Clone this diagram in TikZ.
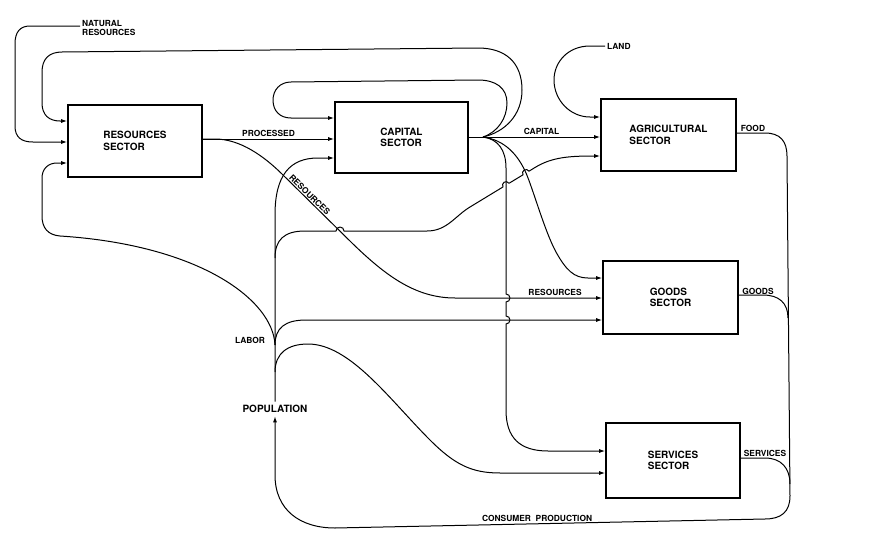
\documentclass[tikz,border=0pt]{standalone}
\usepackage{fontspec}
\setmainfont{TeX Gyre Heros}
\usetikzlibrary{arrows.meta}
\begin{document}
\begin{tikzpicture}[x=1pt,y=-1pt,
  box/.style={draw, line width=1.7pt, align=left, inner sep=0pt,
    font=\bfseries\fontsize{10}{11.5}\selectfont},
  conn/.style={line width=1pt, line join=round},
  flow/.style={conn, -{Latex[length=6pt,width=4pt]}},
  lbl/.style={font=\bfseries\fontsize{8.4}{9}\selectfont, inner sep=1.5pt},
  biglbl/.style={font=\bfseries\fontsize{10}{11}\selectfont},
]
\fill[white] (0,0) rectangle (876,546);
\useasboundingbox (0,0) rectangle (876,546);

% sector boxes
\node[box, minimum width=134pt, minimum height=72pt] (res) at (135,141) {RESOURCES\\SECTOR};
\node[box, minimum width=133pt, minimum height=71pt] (cap) at (401.5,137.5) {CAPITAL\\SECTOR};
\node[box, minimum width=135pt, minimum height=72pt] (agr) at (668.5,135) {AGRICULTURAL\\SECTOR};
\node[box, minimum width=135pt, minimum height=73pt] (goo) at (670.5,297.5) {GOODS\\SECTOR};
\node[box, minimum width=134pt, minimum height=75pt] (ser) at (673,460.5) {SERVICES\\SECTOR};

% free-standing labels
\node[lbl, anchor=west, align=left, inner sep=2pt] (natres) at (80,27.5) {NATURAL\\RESOURCES};
\node[lbl, anchor=west, inner sep=2pt] (land) at (605,46) {LAND};
\node[lbl] (labor) at (250,340) {LABOR};
\node[biglbl] (pop) at (275,409) {POPULATION};
\node[lbl] (food) at (753,128) {FOOD};
\node[lbl] (goodslbl) at (758,291) {GOODS};
\node[lbl] (servlbl) at (765,453) {SERVICES};

% junction points
\coordinate (fan) at (483,137);
\coordinate (lab) at (275,345);

% natural resources input
\draw[flow] (natres.west |- 0,26) -- (30,26) .. controls (20,26) and (15,32) .. (15,44)
  -- (15,126) .. controls (15,137) and (21,142) .. (33,142) -- (res.west |- 0,142);

% capital returned to the resources sector
\draw[flow] (fan) .. controls (505,132) and (522,115) .. (522,90)
  .. controls (522,62) and (505,48) .. (478,48) -- (62,52)
  .. controls (49,52) and (42,59) .. (42,72) -- (42,103)
  .. controls (42,115) and (49,121) .. (60,121) -- (res.west |- 0,121);

% capital reinvested in the capital sector
\draw[flow] (fan) .. controls (498,132) and (507,118) .. (507,103)
  .. controls (507,88) and (496,80) .. (478,80) -- (291,82)
  .. controls (280,82) and (273,90) .. (273,100)
  .. controls (273,111) and (280,118) .. (291,118) -- (cap.west |- 0,118);

% capital output
\draw[conn] (cap.east |- fan) -- (fan);
\draw[flow] (fan) -- node[lbl, above] (caplbl) {CAPITAL} (agr.west |- fan);

% land input
\draw[flow] (land.west) -- (590,46) .. controls (568,46) and (554,62) .. (554,80)
  .. controls (554,100) and (570,117) .. (590,117) -- (agr.west |- 0,117);

% processed resources
\draw[flow] (res.east |- 0,139) -- node[lbl, above] (proclbl) {PROCESSED} (cap.west |- 0,139);

% resources to the goods sector
\draw[flow] (res.east |- 0,139) -- (215,139) .. controls (240,139) and (264,156) .. (283,175)
  -- node[lbl, sloped, above, pos=0.34, inner sep=1pt] (resdiag) {RESOURCES} (352,243)
  .. controls (385,275) and (415,298) .. (455,298)
  -- node[lbl, above, pos=0.68] (reslbl) {RESOURCES} (goo.west |- 0,298);

% labor trunk to the capital sector
\draw[flow] (pop.north) -- (275,215) .. controls (275,175) and (290,158) .. (318,158)
  -- (cap.west |- 0,158);

% labor to the resources sector
\draw[flow] (lab) .. controls (273,300) and (200,245) .. (60,236)
  .. controls (48,235) and (42,228) .. (42,216) -- (42,178)
  .. controls (42,169) and (48,163) .. (57,163) -- (res.west |- 0,163);

% labor to the goods sector
\draw[flow] (lab) .. controls (275,328) and (285,320) .. (306,320) -- (goo.west |- 0,320);

% labor to the agricultural sector (hops over three crossings)
\draw[flow] (275,258) .. controls (275,240) and (284,231) .. (305,231) -- (336,231)
  arc[start angle=180, end angle=360, radius=4] -- (427,231)
  .. controls (447,231) and (455,216) .. (470,207) -- (503.01,186.94)
  arc[start angle=148.71, end angle=328.71, radius=3.5] -- (523.01,174.82)
  arc[start angle=148.71, end angle=328.71, radius=3.5] -- (535,167.5)
  .. controls (552,157) and (570,156) .. (agr.west |- 0,156);

% population to the services sector
\draw[flow] (275,372) .. controls (275,353) and (288,344) .. (308,344)
  .. controls (350,344) and (390,400) .. (430,440)
  .. controls (455,465) and (472,473) .. (500,473) -- (ser.west |- 0,473);

% capital to the services sector (hops over two crossings)
\draw[flow] (fan) .. controls (498,139) and (506,150) .. (506,168) -- (506,294)
  arc[start angle=-90, end angle=90, radius=4] -- (506,316)
  arc[start angle=-90, end angle=90, radius=4] -- (506,410)
  .. controls (506,438) and (520,451) .. (548,451) -- (ser.west |- 0,451);

% capital to the goods sector
\draw[flow] (fan) .. controls (505,140) and (518,155) .. (526,173)
  .. controls (533,189) and (545,232) .. (556,252)
  .. controls (566,270) and (574,278) .. (588,278) -- (goo.west |- 0,278);

% consumer production back to population
\draw[flow] (agr.east |- 0,133) -- (765,133) .. controls (780,133) and (787,141) .. (787,156)
  -- (790,496) .. controls (790,512) and (781,519) .. (765,519)
  -- node[lbl, above, pos=0.53] (conslbl) {CONSUMER\ \ PRODUCTION} (335,528)
  .. controls (300,528) and (275,510) .. (275,475) -- (pop.south);
\draw[conn] (goo.east |- 0,295) -- (763,295) .. controls (779,295) and (788,303) .. (788,318);
\draw[conn] (ser.east |- 0,458) -- (765,458) .. controls (781,458) and (790,468) .. (790,484);
\end{tikzpicture}
\end{document}
